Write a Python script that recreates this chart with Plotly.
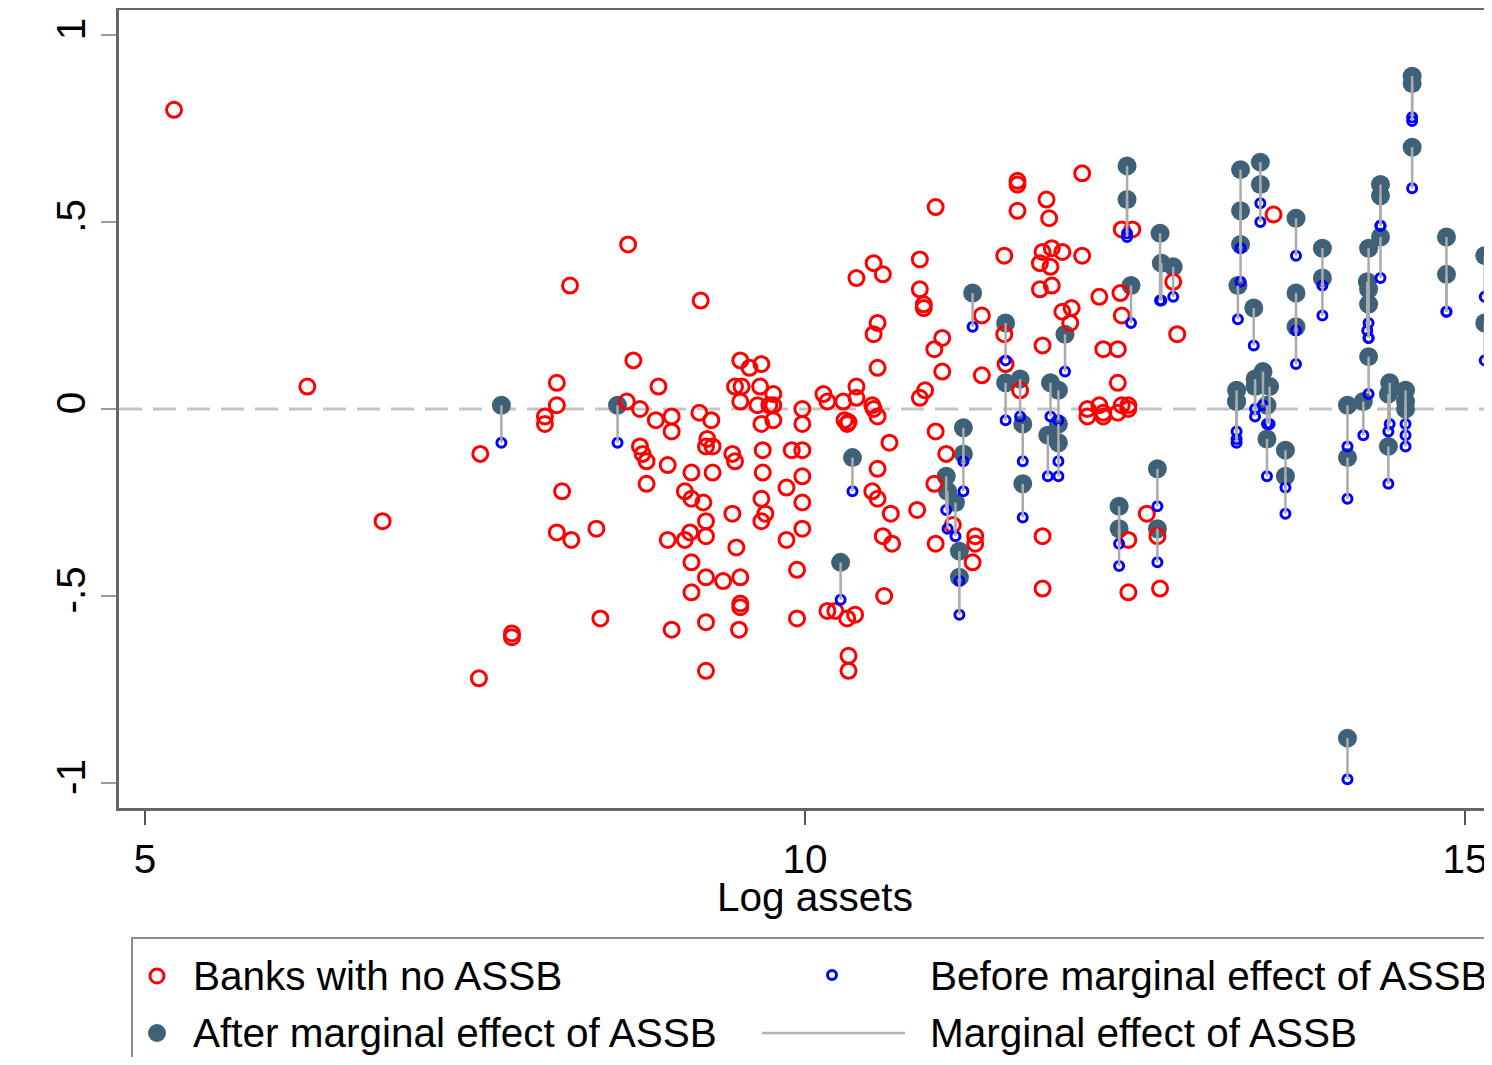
import plotly.graph_objects as go

# ---------------- data ----------------
red_x = [5.22, 6.23, 6.80, 7.54, 7.53, 7.78, 7.78, 8.03, 8.03, 8.12, 8.12, 8.22, 8.16, 8.12, 8.23, 8.42, 8.45,
         8.66, 8.70, 8.65, 8.75, 8.87, 8.99, 8.99, 8.75, 8.77, 8.80, 8.96, 8.80, 8.89, 9.20, 9.29, 9.26, 9.25,
         9.30, 9.14, 9.30, 9.09, 9.14, 9.23, 9.45, 9.47, 9.45, 9.13, 9.09, 8.96, 9.25, 9.25, 9.48, 9.14, 9.25,
         9.38, 9.51, 9.14, 9.51, 9.51, 8.99, 9.25, 9.50, 9.25, 9.68, 9.68, 9.67, 9.70, 9.67, 9.86, 9.90, 9.98,
         9.98, 9.98, 9.98, 9.86, 9.94, 9.94, 10.17, 9.98, 9.98, 9.67, 9.76, 9.76, 9.64, 9.51, 10.17, 9.21,
         9.51, 9.67, 9.58, 9.47, 9.52, 9.66, 9.76, 10.14, 9.73, 10.99, 11.61, 11.61, 12.10, 11.83, 11.85, 11.61,
         12.40, 12.48, 11.51, 11.80, 11.87, 11.95, 11.86, 11.78, 12.10, 10.87, 10.52, 10.59, 10.39, 10.87,
         10.90, 10.90, 11.78, 11.87, 12.23, 12.39, 12.40, 10.55, 10.52, 11.34, 11.04, 10.98, 11.95, 12.02,
         12.01, 10.55, 11.04, 11.34, 11.52, 11.51, 11.80, 12.26, 12.37, 12.37, 10.39, 10.39, 10.29, 10.51,
         10.87, 10.91, 11.63, 12.14, 12.23, 12.40, 12.45, 10.30, 10.32, 10.33, 10.52, 10.55, 10.64, 10.55,
         10.51, 10.55, 10.65, 10.85, 10.59, 10.66, 10.99, 11.07, 10.98, 10.99, 11.12, 11.29, 11.29, 11.27,
         10.60, 10.23, 10.32, 10.38, 10.33, 10.33, 11.80, 11.80, 12.26, 12.26, 12.37, 12.45, 12.14, 12.59,
         12.45, 12.45, 12.69, 12.67, 12.79, 12.82, 13.55]
red_y = [0.80, 0.06, -0.30, -0.12, -0.72, -0.60, -0.61, -0.02, -0.04, 0.01, 0.07, 0.33, -0.22, -0.33, -0.35, -0.32, -0.56,
         0.44, 0.13, 0.02, 0.00, -0.03, -0.02, -0.06, -0.10, -0.12, -0.14, -0.15, -0.20, 0.06, -0.01, -0.03, -0.08, -0.10,
         -0.10, -0.17, -0.17, -0.22, -0.24, -0.25, -0.12, -0.14, -0.28, -0.33, -0.35, -0.35, -0.30, -0.34, -0.37, -0.41, -0.45,
         -0.46, -0.45, -0.49, -0.52, -0.53, -0.59, -0.57, -0.59, -0.70, -0.11, -0.17, -0.24, -0.28, -0.30, -0.21, -0.11, -0.11,
         -0.18, -0.25, -0.32, -0.35, -0.43, -0.56, -0.54, 0.00, -0.04, -0.04, -0.03, 0.01, 0.01, 0.02, 0.02, 0.29,
         0.13, 0.12, 0.11, 0.06, 0.06, 0.06, 0.04, 0.04, 0.01, 0.54, 0.61, 0.60, 0.63, 0.56, 0.51, 0.53,
         0.48, 0.48, 0.41, 0.42, 0.43, 0.42, 0.38, 0.39, 0.41, 0.40, 0.39, 0.36, 0.35, 0.32,
         0.28, 0.27, 0.32, 0.33, 0.30, 0.31, 0.25, 0.23, 0.20, 0.25, 0.19, 0.16, 0.26, 0.27,
         0.23, 0.11, 0.10, 0.09, 0.12, 0.20, 0.17, 0.16, 0.16, 0.07, 0.06, 0.03, 0.02, 0.01,
         0.03, 0.05, 0.05, 0.00, 0.01, 0.01, 0.01, -0.03, -0.04, -0.035, 0.00, -0.02, -0.09, -0.16,
         -0.22, -0.24, -0.28, -0.27, -0.34, -0.36, -0.06, -0.12, -0.20, -0.36, -0.31, -0.34, -0.36, -0.41,
         -0.50, -0.54, -0.56, -0.55, -0.66, -0.70, -0.34, -0.48, -0.01, -0.02, -0.01, 0.00, -0.02, -0.28,
         -0.35, -0.49, -0.48, -0.34, 0.34, 0.20, 0.52]

assb_x = [7.70, 8.58, 11.27, 11.52, 11.97, 12.44, 12.44, 12.47, 10.36, 10.27, 11.20, 11.20, 11.07, 11.08, 11.14,
          11.17, 11.17, 11.65, 11.65, 11.52, 11.63, 11.84, 11.92, 11.92, 11.86, 11.92, 12.38, 12.38, 12.67, 12.67,
          12.69, 12.70, 12.79, 13.30, 13.30, 13.30, 13.28, 13.45, 13.45, 13.40, 13.72, 13.72, 13.72, 13.92, 13.92,
          14.36, 14.36, 14.36, 14.27, 14.26, 14.27, 14.27, 14.27, 14.60, 14.60, 14.60, 14.86, 14.86, 15.15, 15.15,
          13.27, 13.27, 13.27, 13.41, 13.41, 13.47, 13.52, 13.50, 13.50, 13.64, 13.64, 14.11, 14.11, 14.11, 14.23,
          14.42, 14.43, 14.42, 14.55, 14.55, 14.55]
after_y = [0.01, 0.01, 0.31, 0.23, 0.20, 0.65, 0.56, 0.33, -0.13, -0.41, -0.05, -0.12, -0.18, -0.22, -0.25,
           -0.38, -0.45, -0.04, -0.20, 0.07, 0.08, -0.07, -0.04, -0.09, 0.07, 0.05, -0.26, -0.32, -0.16, -0.32,
           0.47, 0.39, 0.38, 0.64, 0.53, 0.44, 0.33, 0.66, 0.60, 0.27, 0.51, 0.31, 0.22, 0.43, 0.35,
           0.60, 0.57, 0.46, 0.43, 0.34, 0.32, 0.28, 0.14, 0.89, 0.87, 0.70, 0.46, 0.36, 0.41, 0.23,
           0.05, 0.02, 0.02, 0.08, 0.06, 0.10, 0.06, 0.01, -0.08, -0.11, -0.18, 0.01, -0.13, -0.88, 0.02,
           -0.10, 0.07, 0.04, 0.05, 0.02, 0.00]
before_y = [-0.09, -0.09, 0.22, 0.13, 0.10, 0.46, 0.47, 0.23, -0.22, -0.51, -0.14, -0.22, -0.27, -0.32, -0.34,
            -0.46, -0.55, -0.14, -0.29, -0.03, -0.02, -0.18, -0.14, -0.18, -0.02, -0.03, -0.36, -0.42, -0.26, -0.41,
            0.29, 0.29, 0.30, 0.43, 0.43, 0.34, 0.24, 0.55, 0.50, 0.17, 0.41, 0.21, 0.12, 0.33, 0.25,
            0.49, 0.49, 0.35, 0.23, 0.21, 0.19, 0.19, 0.04, 0.78, 0.77, 0.59, 0.26, 0.26, 0.30, 0.13,
            -0.06, -0.09, -0.08, 0.00, -0.02, 0.01, -0.04, -0.04, -0.18, -0.21, -0.28, -0.10, -0.24, -0.99, -0.07,
            -0.20, -0.04, -0.06, -0.04, -0.07, -0.10]

x_ticks = [5, 10, 15]
y_ticks = [-1, -0.5, 0, 0.5, 1]
y_ticktext = ["-1", "-.5", "0", ".5", "1"]
x_title = "Log assets"
legend_labels = ["Banks with no ASSB", "Before marginal effect of ASSB",
                 "After marginal effect of ASSB", "Marginal effect of ASSB"]

# ---------------- styles ----------------
RED = "#ff0000"
BLUE = "#0000ff"
DARK = "#3f6177"
SPIKE = "#ababab"
FONT = "Liberation Sans, Arial, sans-serif"
FS = 40.5

# the page body has an 8px margin: size the figure so the page does not scroll
OFF = 8
W, H = 1492 - OFF, 1065 - 2 * OFF
# plot area in page pixels: left 119, right 1492, top 10, bottom 808
L, R, T = 119 - OFF, 0, 10 - OFF
B = H - (808 - OFF)
PW, PH = 1373, 798


def px(xp):  # page pixel -> paper fraction
    return (xp - 119) / PW


def py(yp):
    return (808 - yp) / PH


# spikes
sx, sy = [], []
for x, a, b in zip(assb_x, after_y, before_y):
    sx += [x, x, None]
    sy += [a, b, None]

fig = go.Figure()
fig.add_trace(go.Scatter(x=assb_x, y=after_y, mode="markers", name=legend_labels[2],
                         marker=dict(symbol="circle", size=19, color=DARK, line=dict(width=0)),
                         showlegend=False))
fig.add_trace(go.Scatter(x=red_x, y=red_y, mode="markers", name=legend_labels[0],
                         marker=dict(symbol="circle-open", size=15, color=RED, line=dict(width=3, color=RED)),
                         showlegend=False))
fig.add_trace(go.Scatter(x=assb_x, y=before_y, mode="markers", name=legend_labels[1],
                         marker=dict(symbol="circle-open", size=9, color=BLUE, line=dict(width=3, color=BLUE)),
                         showlegend=False))
fig.add_trace(go.Scatter(x=sx, y=sy, mode="lines", name=legend_labels[3],
                         line=dict(color=SPIKE, width=2.5), showlegend=False, connectgaps=False))

shapes = []
shapes.append(dict(type="line", xref="paper", yref="y", x0=0, x1=1, y0=0, y1=0,
                   line=dict(color="#c4c4c4", width=3, dash="23px,11px"), layer="below"))
shapes.append(dict(type="rect", xref="paper", yref="paper", x0=px(132), x1=px(1520), y0=py(938), y1=py(1090),
                   line=dict(color="#8c8c8c", width=2), fillcolor="white", layer="above"))


def circ(xc, yc, d, lw, color, fill):
    return dict(type="circle", xref="paper", yref="paper", xsizemode="pixel", ysizemode="pixel",
                xanchor=px(xc), yanchor=py(yc), x0=-d / 2, x1=d / 2, y0=-d / 2, y1=d / 2,
                line=dict(color=color, width=lw), fillcolor=fill, layer="above")


shapes.append(circ(157, 976, 14, 3, RED, "white"))
shapes.append(circ(832, 975, 9, 3, BLUE, "white"))
shapes.append(circ(157, 1033, 18, 0, DARK, DARK))
shapes.append(dict(type="line", xref="paper", yref="paper", x0=px(762), x1=px(905), y0=py(1033), y1=py(1033),
                   line=dict(color="#b4b4b4", width=2.5), layer="above"))

annotations = []
for (xp, yp), t in zip([(191, 976), (928, 976), (191, 1033), (928, 1033)], legend_labels):
    annotations.append(dict(x=px(xp), y=py(yp), xref="paper", yref="paper", text=t, showarrow=False,
                            xanchor="left", yanchor="middle", font=dict(family=FONT, size=FS, color="black")))
annotations.append(dict(x=px(815), y=py(897), xref="paper", yref="paper", text=x_title, showarrow=False,
                        xanchor="center", yanchor="middle", font=dict(family=FONT, size=FS, color="black")))

fig.update_layout(
    width=W, height=H,
    margin=dict(l=L, r=R, t=T, b=B, pad=0),
    paper_bgcolor="white", plot_bgcolor="white",
    shapes=shapes, annotations=annotations,
    showlegend=False,
    font=dict(family=FONT, size=FS, color="black"),
)
fig.update_xaxes(range=[4.803, 15.205], tickvals=x_ticks, ticktext=[str(v) for v in x_ticks],
                 showgrid=False, zeroline=False, showline=True, linecolor="#666666", linewidth=2.5,
                 mirror=True, ticks="outside", ticklen=14, tickwidth=2, tickcolor="#555555",
                 tickfont=dict(family=FONT, size=FS, color="black"))
fig.update_yaxes(range=[-1.0668, 1.0668], tickvals=y_ticks, ticktext=y_ticktext, tickangle=-90,
                 showgrid=False, zeroline=False, showline=True, linecolor="#666666", linewidth=2.5,
                 mirror=False, ticks="outside", ticklen=15, tickwidth=2, tickcolor="#9a9a9a",
                 ticklabelstandoff=0,
                 tickfont=dict(family=FONT, size=FS, color="black"))

fig.write_html("out.html")
